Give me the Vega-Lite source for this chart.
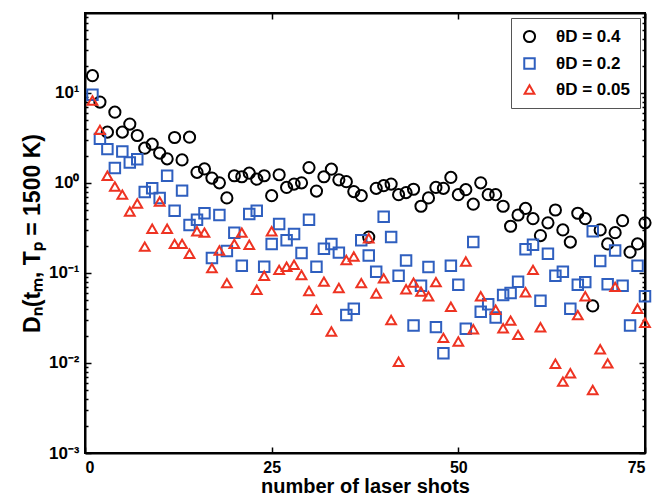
{
  "$schema": "https://vega.github.io/schema/vega-lite/v6.json",
  "autosize": {"type": "none"},
  "padding": {"left": 85, "top": 13, "right": 10, "bottom": 47},
  "width": 560,
  "height": 440,
  "background": "white",
  "config": {
    "font": "Liberation Sans",
    "view": {"stroke": "black", "strokeWidth": 2},
    "axis": {"grid": false, "domainColor": "black", "domainWidth": 2, "tickColor": "black", "tickWidth": 1.5, "labelFont": "Liberation Sans", "labelFontWeight": "bold", "labelColor": "black", "labelFontSize": 16, "titleFont": "Liberation Sans", "titleFontWeight": "bold", "titleColor": "black", "titleFontSize": 22}
  },
  "datasets": {
    "pts": [
      {"n":1,"s":"0.4","D":15.5},{"n":2,"s":"0.4","D":7.9},{"n":3,"s":"0.4","D":3.66},{"n":4,"s":"0.4","D":6.1},{"n":5,"s":"0.4","D":3.66},{"n":6,"s":"0.4","D":4.5},{"n":7,"s":"0.4","D":3.36},{"n":8,"s":"0.4","D":2.43},{"n":9,"s":"0.4","D":2.69},{"n":10,"s":"0.4","D":2.14},
      {"n":11,"s":"0.4","D":1.85},{"n":12,"s":"0.4","D":3.19},{"n":13,"s":"0.4","D":1.8},{"n":14,"s":"0.4","D":3.22},{"n":15,"s":"0.4","D":1.31},{"n":16,"s":"0.4","D":1.43},{"n":17,"s":"0.4","D":1.13},{"n":18,"s":"0.4","D":1.0},{"n":19,"s":"0.4","D":0.68},{"n":20,"s":"0.4","D":1.2},
      {"n":21,"s":"0.4","D":1.17},{"n":22,"s":"0.4","D":1.28},{"n":23,"s":"0.4","D":1.1},{"n":24,"s":"0.4","D":1.2},{"n":25,"s":"0.4","D":0.72},{"n":26,"s":"0.4","D":1.23},{"n":27,"s":"0.4","D":0.89},{"n":28,"s":"0.4","D":0.97},{"n":29,"s":"0.4","D":1.0},{"n":30,"s":"0.4","D":1.48},
      {"n":31,"s":"0.4","D":0.81},{"n":32,"s":"0.4","D":1.17},{"n":33,"s":"0.4","D":1.42},{"n":34,"s":"0.4","D":1.08},{"n":35,"s":"0.4","D":1.03},{"n":36,"s":"0.4","D":0.8},{"n":37,"s":"0.4","D":0.72},{"n":38,"s":"0.4","D":0.25},{"n":39,"s":"0.4","D":0.87},{"n":40,"s":"0.4","D":0.93},
      {"n":41,"s":"0.4","D":0.97},{"n":42,"s":"0.4","D":0.74},{"n":43,"s":"0.4","D":0.78},{"n":44,"s":"0.4","D":0.85},{"n":45,"s":"0.4","D":0.55},{"n":46,"s":"0.4","D":0.68},{"n":47,"s":"0.4","D":0.89},{"n":48,"s":"0.4","D":0.87},{"n":49,"s":"0.4","D":1.15},{"n":50,"s":"0.4","D":0.74},
      {"n":51,"s":"0.4","D":0.84},{"n":52,"s":"0.4","D":0.58},{"n":53,"s":"0.4","D":1.0},{"n":54,"s":"0.4","D":0.74},{"n":55,"s":"0.4","D":0.74},{"n":56,"s":"0.4","D":0.55},{"n":57,"s":"0.4","D":0.33},{"n":58,"s":"0.4","D":0.44},{"n":59,"s":"0.4","D":0.52},{"n":60,"s":"0.4","D":0.4},
      {"n":61,"s":"0.4","D":0.26},{"n":62,"s":"0.4","D":0.36},{"n":63,"s":"0.4","D":0.5},{"n":64,"s":"0.4","D":0.3},{"n":65,"s":"0.4","D":0.22},{"n":66,"s":"0.4","D":0.46},{"n":67,"s":"0.4","D":0.4},{"n":68,"s":"0.4","D":0.043},{"n":69,"s":"0.4","D":0.3},{"n":70,"s":"0.4","D":0.21},
      {"n":71,"s":"0.4","D":0.28},{"n":72,"s":"0.4","D":0.38},{"n":73,"s":"0.4","D":0.17},{"n":74,"s":"0.4","D":0.21},{"n":75,"s":"0.4","D":0.36},
      {"n":1,"s":"0.2","D":9.5},{"n":2,"s":"0.2","D":3.08},{"n":3,"s":"0.2","D":2.37},{"n":4,"s":"0.2","D":1.46},{"n":5,"s":"0.2","D":2.23},{"n":6,"s":"0.2","D":1.68},{"n":7,"s":"0.2","D":1.83},{"n":8,"s":"0.2","D":0.79},{"n":9,"s":"0.2","D":0.87},{"n":10,"s":"0.2","D":0.68},
      {"n":11,"s":"0.2","D":1.2},{"n":12,"s":"0.2","D":0.49},{"n":13,"s":"0.2","D":0.82},{"n":14,"s":"0.2","D":0.34},{"n":15,"s":"0.2","D":0.39},{"n":16,"s":"0.2","D":0.46},{"n":17,"s":"0.2","D":0.146},{"n":18,"s":"0.2","D":0.44},{"n":19,"s":"0.2","D":0.175},{"n":20,"s":"0.2","D":0.28},
      {"n":21,"s":"0.2","D":0.12},{"n":22,"s":"0.2","D":0.45},{"n":23,"s":"0.2","D":0.49},{"n":24,"s":"0.2","D":0.117},{"n":25,"s":"0.2","D":0.21},{"n":26,"s":"0.2","D":0.35},{"n":27,"s":"0.2","D":0.23},{"n":28,"s":"0.2","D":0.27},{"n":29,"s":"0.2","D":0.166},{"n":30,"s":"0.2","D":0.39},
      {"n":31,"s":"0.2","D":0.117},{"n":32,"s":"0.2","D":0.185},{"n":33,"s":"0.2","D":0.21},{"n":34,"s":"0.2","D":0.168},{"n":35,"s":"0.2","D":0.034},{"n":36,"s":"0.2","D":0.04},{"n":37,"s":"0.2","D":0.23},{"n":38,"s":"0.2","D":0.156},{"n":39,"s":"0.2","D":0.103},{"n":40,"s":"0.2","D":0.42},
      {"n":41,"s":"0.2","D":0.25},{"n":42,"s":"0.2","D":0.093},{"n":43,"s":"0.2","D":0.137},{"n":44,"s":"0.2","D":0.026},{"n":45,"s":"0.2","D":0.072},{"n":46,"s":"0.2","D":0.116},{"n":47,"s":"0.2","D":0.025},{"n":48,"s":"0.2","D":0.0128},{"n":49,"s":"0.2","D":0.12},{"n":50,"s":"0.2","D":0.074},
      {"n":51,"s":"0.2","D":0.024},{"n":52,"s":"0.2","D":0.22},{"n":53,"s":"0.2","D":0.037},{"n":54,"s":"0.2","D":0.045},{"n":55,"s":"0.2","D":0.032},{"n":56,"s":"0.2","D":0.057},{"n":57,"s":"0.2","D":0.06},{"n":58,"s":"0.2","D":0.08},{"n":59,"s":"0.2","D":0.183},{"n":60,"s":"0.2","D":0.205},
      {"n":61,"s":"0.2","D":0.049},{"n":62,"s":"0.2","D":0.163},{"n":63,"s":"0.2","D":0.093},{"n":64,"s":"0.2","D":0.103},{"n":65,"s":"0.2","D":0.04},{"n":66,"s":"0.2","D":0.074},{"n":67,"s":"0.2","D":0.079},{"n":68,"s":"0.2","D":0.29},{"n":69,"s":"0.2","D":0.136},{"n":70,"s":"0.2","D":0.075},
      {"n":71,"s":"0.2","D":0.177},{"n":72,"s":"0.2","D":0.072},{"n":73,"s":"0.2","D":0.026},{"n":74,"s":"0.2","D":0.12},{"n":75,"s":"0.2","D":0.055},
      {"n":1,"s":"0.05","D":8.2},{"n":2,"s":"0.05","D":3.88},{"n":3,"s":"0.05","D":1.2},{"n":4,"s":"0.05","D":0.91},{"n":5,"s":"0.05","D":0.74},{"n":6,"s":"0.05","D":0.48},{"n":7,"s":"0.05","D":0.59},{"n":8,"s":"0.05","D":0.196},{"n":9,"s":"0.05","D":0.31},{"n":10,"s":"0.05","D":0.62},
      {"n":11,"s":"0.05","D":0.31},{"n":12,"s":"0.05","D":0.21},{"n":13,"s":"0.05","D":0.21},{"n":14,"s":"0.05","D":0.163},{"n":15,"s":"0.05","D":0.29},{"n":16,"s":"0.05","D":0.28},{"n":17,"s":"0.05","D":0.113},{"n":18,"s":"0.05","D":0.177},{"n":19,"s":"0.05","D":0.077},{"n":20,"s":"0.05","D":0.21},
      {"n":21,"s":"0.05","D":0.28},{"n":22,"s":"0.05","D":0.205},{"n":23,"s":"0.05","D":0.065},{"n":24,"s":"0.05","D":0.093},{"n":25,"s":"0.05","D":0.29},{"n":26,"s":"0.05","D":0.108},{"n":27,"s":"0.05","D":0.117},{"n":28,"s":"0.05","D":0.123},{"n":29,"s":"0.05","D":0.095},{"n":30,"s":"0.05","D":0.063},
      {"n":31,"s":"0.05","D":0.039},{"n":32,"s":"0.05","D":0.08},{"n":33,"s":"0.05","D":0.0223},{"n":34,"s":"0.05","D":0.068},{"n":35,"s":"0.05","D":0.139},{"n":36,"s":"0.05","D":0.152},{"n":37,"s":"0.05","D":0.077},{"n":38,"s":"0.05","D":0.243},{"n":39,"s":"0.05","D":0.059},{"n":40,"s":"0.05","D":0.087},
      {"n":41,"s":"0.05","D":0.03},{"n":42,"s":"0.05","D":0.0103},{"n":43,"s":"0.05","D":0.066},{"n":44,"s":"0.05","D":0.078},{"n":45,"s":"0.05","D":0.062},{"n":46,"s":"0.05","D":0.055},{"n":47,"s":"0.05","D":0.079},{"n":48,"s":"0.05","D":0.019},{"n":49,"s":"0.05","D":0.042},{"n":50,"s":"0.05","D":0.0173},
      {"n":51,"s":"0.05","D":0.134},{"n":52,"s":"0.05","D":0.0237},{"n":53,"s":"0.05","D":0.055},{"n":55,"s":"0.05","D":0.039},{"n":56,"s":"0.05","D":0.0243},{"n":57,"s":"0.05","D":0.0295},{"n":58,"s":"0.05","D":0.0205},{"n":59,"s":"0.05","D":0.061},{"n":60,"s":"0.05","D":0.108},
      {"n":61,"s":"0.05","D":0.0249},{"n":63,"s":"0.05","D":0.0098},{"n":64,"s":"0.05","D":0.0062},{"n":65,"s":"0.05","D":0.0077},{"n":66,"s":"0.05","D":0.034},{"n":67,"s":"0.05","D":0.055},{"n":68,"s":"0.05","D":0.005},{"n":69,"s":"0.05","D":0.0142},{"n":70,"s":"0.05","D":0.0099},
      {"n":71,"s":"0.05","D":0.07},{"n":74,"s":"0.05","D":0.04},{"n":75,"s":"0.05","D":0.028}
    ]
  },
  "data": {"name": "pts"},
  "layer": [
    {
      "mark": {"type": "point", "filled": false, "strokeWidth": 2, "opacity": 1},
      "encoding": {
        "x": {"field": "n", "type": "quantitative", "scale": {"domain": [0, 75], "nice": false, "zero": false},
              "axis": {"values": [0, 25, 50, 75], "tickSize": -6, "labelPadding": 12, "title": "number of laser shots", "titlePadding": 1, "titleFontSize": 20}},
        "y": {"field": "D", "type": "quantitative", "scale": {"type": "log", "domain": [0.001, 77], "nice": false},
              "axis": {"values": [0.001,0.002,0.003,0.004,0.005,0.006,0.007,0.008,0.009,0.01,0.02,0.03,0.04,0.05,0.06,0.07,0.08,0.09,0.1,0.2,0.3,0.4,0.5,0.6,0.7,0.8,0.9,1,2,3,4,5,6,7,8,9,10,20,30,40,50,60,70],
                       "tickSize": {"condition": {"test": "indexof([0.001,0.01,0.1,1,10], datum.value) >= 0", "value": -6}, "value": -3},
                       "labelPadding": 12, "labelFontSize": 17,
                       "labelExpr": "datum.value == 10 ? '10¹' : datum.value == 1 ? '10⁰' : datum.value == 0.1 ? '10⁻¹' : datum.value == 0.01 ? '10⁻²' : datum.value == 0.001 ? '10⁻³' : ''",
                       "title": "Dₙ(tₘ, Tₚ = 1500 K)", "titlePadding": 4, "titleFontSize": 23}},
        "color": {"field": "s", "type": "nominal", "scale": {"domain": ["0.4", "0.2", "0.05"], "range": ["#000000", "#2f5fbf", "#ee3322"]},
                  "legend": {"title": null, "orient": "top-right", "offset": 5, "labelExpr": "'θD = ' + datum.label", "labelFontSize": 17, "labelFontWeight": "bold", "labelFont": "Liberation Sans", "labelColor": "black", "strokeColor": "#555555", "fillColor": "white", "padding": 10, "rowPadding": 7, "symbolStrokeWidth": 2, "symbolSize": 130, "labelOffset": 18, "symbolFillColor": "transparent"}},
        "shape": {"field": "s", "type": "nominal", "scale": {"domain": ["0.4", "0.2", "0.05"], "range": ["circle", "square", "triangle-up"]}, "legend": {"title": null, "orient": "top-right"}},
        "size": {"field": "s", "type": "nominal", "scale": {"domain": ["0.4", "0.2", "0.05"], "range": [125, 95, 220]}, "legend": null}
      }
    },
    {
      "mark": {"type": "point", "opacity": 0},
      "encoding": {
        "x": {"field": "n", "type": "quantitative", "scale": {"domain": [0, 75], "nice": false, "zero": false},
              "axis": {"orient": "top", "values": [0, 25, 50, 75], "tickSize": -6, "labels": false, "title": null}},
        "y": {"field": "D", "type": "quantitative", "scale": {"type": "log", "domain": [0.001, 77], "nice": false},
              "axis": {"orient": "right", "values": [0.001,0.002,0.003,0.004,0.005,0.006,0.007,0.008,0.009,0.01,0.02,0.03,0.04,0.05,0.06,0.07,0.08,0.09,0.1,0.2,0.3,0.4,0.5,0.6,0.7,0.8,0.9,1,2,3,4,5,6,7,8,9,10,20,30,40,50,60,70],
                       "tickSize": {"condition": {"test": "indexof([0.001,0.01,0.1,1,10], datum.value) >= 0", "value": -6}, "value": -3},
                       "labels": false, "title": null}}
      }
    }
  ],
  "resolve": {"axis": {"x": "independent", "y": "independent"}}
}
